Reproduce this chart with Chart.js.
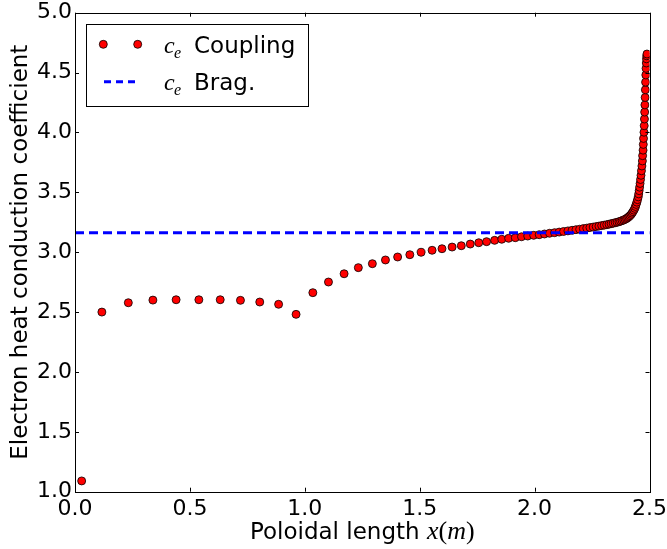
<!DOCTYPE html>
<html>
<head>
<meta charset="utf-8">
<script src="https://cdn.jsdelivr.net/npm/chart.js@4.4.1/dist/chart.umd.min.js"></script>
<style>
  html, body { margin: 0; padding: 0; background: #fff; }
  canvas { display: block; }
</style>
</head>
<body>
<canvas id="chart" width="667" height="549"></canvas>
<script>
// data
const couplingX = [0.029, 0.117, 0.232, 0.339, 0.440, 0.539, 0.632, 0.720, 0.804, 0.886, 0.962,
  1.035, 1.103, 1.171, 1.233, 1.294, 1.351, 1.404, 1.457, 1.506, 1.554, 1.597, 1.641, 1.681,
  1.720, 1.757, 1.791, 1.826, 1.857, 1.887, 1.916, 1.943, 1.970, 1.996, 2.020, 2.043, 2.065,
  2.087, 2.107, 2.126, 2.145, 2.163, 2.180, 2.196, 2.212, 2.227, 2.241, 2.255, 2.268, 2.280,
  2.292, 2.303, 2.314, 2.324, 2.333, 2.342, 2.351, 2.359, 2.367, 2.374, 2.381, 2.388, 2.394,
  2.400, 2.405, 2.410, 2.415, 2.420, 2.424, 2.428, 2.432, 2.436, 2.439, 2.442, 2.445, 2.448,
  2.451, 2.453, 2.455, 2.457, 2.459, 2.461, 2.463, 2.465, 2.467, 2.469, 2.470, 2.472, 2.473,
  2.474, 2.476, 2.477, 2.478, 2.479, 2.480, 2.481, 2.482, 2.483, 2.484, 2.485, 2.486, 2.487,
  2.488, 2.489];
const couplingY = [1.09, 2.50, 2.578, 2.60, 2.603, 2.603, 2.603, 2.598, 2.584, 2.565, 2.481,
  2.662, 2.751, 2.820, 2.871, 2.904, 2.935, 2.960, 2.979, 2.999, 3.016, 3.029, 3.043, 3.054,
  3.068, 3.079, 3.088, 3.099, 3.108, 3.116, 3.121, 3.129, 3.135, 3.141, 3.146, 3.152, 3.158,
  3.163, 3.168, 3.173, 3.178, 3.183, 3.188, 3.192, 3.197, 3.201, 3.206, 3.210, 3.214, 3.218,
  3.222, 3.226, 3.230, 3.234, 3.238, 3.242, 3.246, 3.250, 3.254, 3.259, 3.264, 3.269, 3.275,
  3.281, 3.288, 3.296, 3.305, 3.315, 3.326, 3.338, 3.351, 3.366, 3.382, 3.399, 3.418, 3.439,
  3.462, 3.487, 3.514, 3.543, 3.574, 3.607, 3.642, 3.680, 3.720, 3.762, 3.806, 3.852, 3.900,
  3.950, 4.002, 4.056, 4.112, 4.170, 4.230, 4.292, 4.356, 4.420, 4.480, 4.535, 4.580, 4.615,
  4.640, 4.655];
const braggX = [0, 2.5];
const braggY = [3.163, 3.163];
const xTicks = [0, 0.5, 1.0, 1.5, 2.0, 2.5];
const yTicks = [1.0, 1.5, 2.0, 2.5, 3.0, 3.5, 4.0, 4.5, 5.0];

const SANS = "'DejaVu Sans', sans-serif";
const SERIF = "'Liberation Serif', serif";

// box, inward ticks, titles and legend
const framePlugin = {
  id: 'frame',
  afterDatasetsDraw(chart) {
    const ctx = chart.ctx;
    const a = chart.chartArea;
    const xs = chart.scales.x, ys = chart.scales.y;
    ctx.save();
    ctx.strokeStyle = '#000';
    ctx.lineWidth = 1;
    ctx.strokeRect(Math.round(a.left) + 0.5, Math.round(a.top) + 0.5,
      Math.round(a.right - a.left), Math.round(a.bottom - a.top));
    ctx.beginPath();
    xTicks.forEach(v => {
      const px = Math.round(xs.getPixelForValue(v)) + 0.5;
      ctx.moveTo(px, a.bottom); ctx.lineTo(px, a.bottom - 4);
      ctx.moveTo(px, a.top); ctx.lineTo(px, a.top + 4);
    });
    yTicks.forEach(v => {
      const py = Math.round(ys.getPixelForValue(v)) + 0.5;
      ctx.moveTo(a.left, py); ctx.lineTo(a.left + 4, py);
      ctx.moveTo(a.right, py); ctx.lineTo(a.right - 4, py);
    });
    ctx.stroke();
    ctx.restore();
  },
  afterDraw(chart) {
    const ctx = chart.ctx;
    const a = chart.chartArea;
    ctx.save();
    ctx.fillStyle = '#000';

    // y title
    ctx.save();
    ctx.translate(21, (a.top + a.bottom) / 2);
    ctx.rotate(-Math.PI / 2);
    ctx.font = '23px ' + SANS;
    ctx.textAlign = 'center';
    ctx.textBaseline = 'middle';
    ctx.fillText('Electron heat conduction coefficient', 0, 0);
    ctx.restore();

    // x title, with math part
    const parts = [
      ['Poloidal length ', '23px ' + SANS],
      ['x', 'italic 26px ' + SERIF],
      ['(', '26px ' + SERIF],
      ['m', 'italic 26px ' + SERIF],
      [')', '26px ' + SERIF]
    ];
    let total = 0;
    parts.forEach(p => { ctx.font = p[1]; total += ctx.measureText(p[0]).width; });
    let tx = (a.left + a.right) / 2 - total / 2;
    ctx.textBaseline = 'alphabetic';
    ctx.textAlign = 'left';
    parts.forEach(p => {
      ctx.font = p[1];
      ctx.fillText(p[0], tx, 539);
      tx += ctx.measureText(p[0]).width;
    });

    // legend
    ctx.fillStyle = '#fff';
    ctx.fillRect(87, 25, 221, 81);
    ctx.strokeStyle = '#000';
    ctx.lineWidth = 1;
    ctx.strokeRect(86.5, 24.5, 222, 82);

    [103.3, 137.7].forEach(cx => {
      ctx.beginPath();
      ctx.arc(cx, 44.3, 4, 0, Math.PI * 2);
      ctx.fillStyle = '#ff0000';
      ctx.fill();
      ctx.strokeStyle = '#000';
      ctx.lineWidth = 0.8;
      ctx.stroke();
    });
    ctx.beginPath();
    ctx.setLineDash([7, 5]);
    ctx.strokeStyle = '#0000ff';
    ctx.lineWidth = 3;
    ctx.moveTo(104, 81.7);
    ctx.lineTo(138, 81.7);
    ctx.stroke();
    ctx.setLineDash([]);

    const rows = [['Coupling', 53], ['Brag.', 90]];
    ctx.fillStyle = '#000';
    rows.forEach(r => {
      ctx.font = 'italic 24px ' + SERIF;
      ctx.fillText('c', 164, r[1]);
      ctx.font = 'italic 16px ' + SERIF;
      ctx.fillText('e', 174, r[1] + 5);
      ctx.font = '23px ' + SANS;
      ctx.fillText(r[0], 194, r[1]);
    });
    ctx.restore();
  }
};

new Chart(document.getElementById('chart'), {
  type: 'scatter',
  data: {
    datasets: [
      {
        label: 'c_e Brag.',
        data: braggX.map((x, i) => ({ x: x, y: braggY[i] })),
        showLine: true,
        borderColor: '#0000ff',
        borderWidth: 3,
        borderDash: [9, 5],
        pointRadius: 0,
        fill: false,
        clip: 0,
        order: 0
      },
      {
        label: 'c_e Coupling',
        data: couplingX.map((x, i) => ({ x: x, y: couplingY[i] })),
        showLine: false,
        pointRadius: 4,
        pointBackgroundColor: '#ff0000',
        pointBorderColor: '#000',
        pointBorderWidth: 0.8,
        clip: 0,
        order: 1
      }
    ]
  },
  options: {
    responsive: false,
    animation: false,
    devicePixelRatio: 1,
    layout: { padding: { top: 12.7, right: 17.5, left: 0, bottom: 0 } },
    plugins: { legend: { display: false }, tooltip: { enabled: false } },
    scales: {
      x: {
        type: 'linear', min: 0, max: 2.5,
        grid: { display: false, drawTicks: false },
        border: { display: false },
        ticks: {
          stepSize: 0.5, autoSkip: false, maxRotation: 0, padding: 4,
          color: '#000', font: { family: SANS, size: 22 },
          callback: v => v.toFixed(1)
        },
        afterFit(s) { s.height = 57.3; s.paddingLeft = 0; s.paddingRight = 0; }
      },
      y: {
        type: 'linear', min: 1, max: 5,
        grid: { display: false, drawTicks: false },
        border: { display: false },
        ticks: {
          stepSize: 0.5, autoSkip: false, padding: 3,
          color: '#000', font: { family: SANS, size: 22 },
          callback: v => v.toFixed(1)
        },
        afterFit(s) { s.width = 75; s.paddingTop = 0; s.paddingBottom = 0; }
      }
    }
  },
  plugins: [framePlugin]
});
</script>
</body>
</html>
